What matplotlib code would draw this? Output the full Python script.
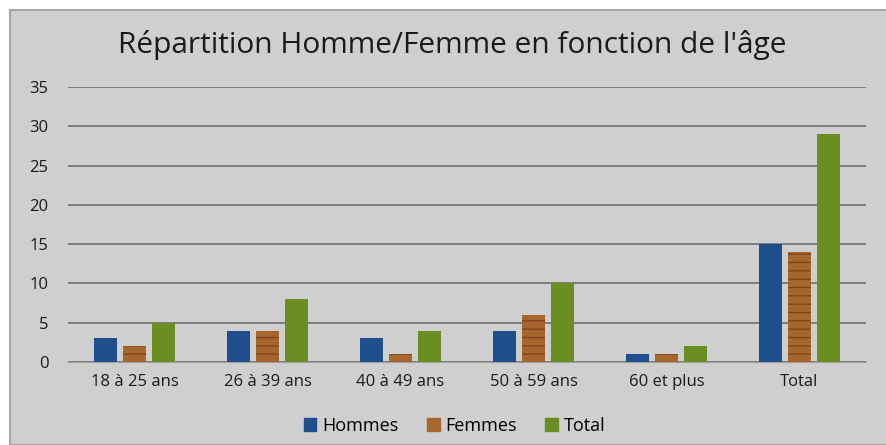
import matplotlib.pyplot as plt
import numpy as np
from matplotlib.patches import Rectangle

categories = ['18 à 25 ans', '26 à 39 ans', '40 à 49 ans', '50 à 59 ans', '60 et plus', 'Total']
hommes = [3, 4, 3, 4, 1, 15]
femmes = [2, 4, 1, 6, 1, 14]
total = [5, 8, 4, 10, 2, 29]

plt.rcParams['font.family'] = ['Open Sans', 'DejaVu Sans']
plt.rcParams['hatch.linewidth'] = 0.9

fig = plt.figure(figsize=(8.86, 4.45), dpi=100)
fig.patch.set_facecolor('white')
# grey chart frame
fig.patches.append(Rectangle((10 / 886, 0), 1, (445 - 10) / 445, transform=fig.transFigure,
                             facecolor='#cfcfcf', edgecolor='#a6a6a6', linewidth=1.5, zorder=-10))

ax = fig.add_axes([68 / 886, (445 - 362) / 445, (866 - 68) / 886, (362 - 87) / 445])
ax.set_facecolor('none')
ax.set_zorder(2)

x = np.arange(len(categories))
w = 0.17
step = 0.22

ax.bar(x - step, hommes, w, color='#1f4e8c', zorder=3)
ax.bar(x, femmes, w, color='#a8662f', zorder=3)
ax.bar(x, femmes, w, fill=False, hatch='--', edgecolor='#7d4318', linewidth=0, zorder=4)
ax.bar(x + step, total, w, color='#6b8e23', zorder=3)

ax.set_xlim(-0.5, len(categories) - 0.5)
ax.set_ylim(0, 35)
ax.set_yticks(range(0, 36, 5))
ax.set_xticks(x)
ax.set_xticklabels(categories)
ax.yaxis.grid(True, color='#6e6e6e', linewidth=1.2, zorder=1)
ax.tick_params(axis='both', length=0, labelsize=12, colors='#1a1a1a')
ax.tick_params(axis='x', pad=9)
ax.tick_params(axis='y', pad=14)
for s in ['top', 'right', 'left']:
    ax.spines[s].set_visible(False)
ax.spines['bottom'].set_color('#a0a0a0')

fig.text(0.51, 0.9, "Répartition Homme/Femme en fonction de l'âge", ha='center', va='center',
         fontsize=21.5, color='#1a1a1a')

handles = [Rectangle((0, 0), 1, 1, color='#1f4e8c'),
           Rectangle((0, 0), 1, 1, color='#a8662f'),
           Rectangle((0, 0), 1, 1, color='#6b8e23')]
fig.legend(handles, ['Hommes', 'Femmes', 'Total'], loc='center', bbox_to_anchor=(0.513, 0.043),
           ncol=3, frameon=False, fontsize=13, handlelength=0.7, handleheight=0.7,
           handletextpad=0.3, columnspacing=1.6)

plt.savefig('out.png', dpi=100)
